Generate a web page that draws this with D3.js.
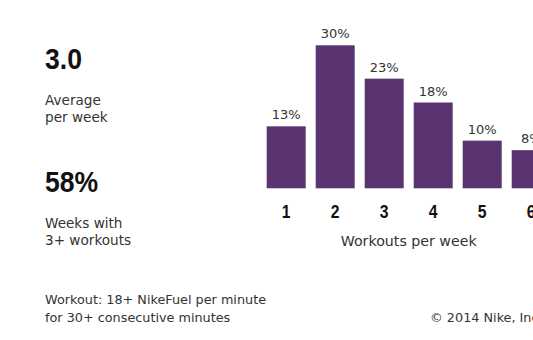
<!DOCTYPE html>
<html>
<head>
<meta charset="utf-8">
<script src="https://cdn.jsdelivr.net/npm/d3@7"></script>
<style>
  body { margin: 0; background: #fff; }
  svg { display: block; }
</style>
</head>
<body>
<div id="chart"></div>
<script>
// Workouts per week distribution
const workouts = ["1", "2", "3", "4", "5", "6"];
const shares = [13, 30, 23, 18, 10, 8];

// Summary stats on the left
const statValues = ["3.0", "58%"];
const statLabels = [["Average", "per week"], ["Weeks with", "3+ workouts"]];

const footNote = ["Workout: 18+ NikeFuel per minute", "for 30+ consecutive minutes"];
const copyright = "\u00A9 2014 Nike, Inc.";

const width = 533;
const height = 340;
const barColor = "#5a3371";
const boldFont = "'Liberation Sans', Arial, sans-serif";
const plain = "'DejaVu Sans', sans-serif";

const svg = d3.select("#chart")
  .append("svg")
  .attr("width", width)
  .attr("height", height);

// Scales
const x = d3.scaleBand()
  .domain(workouts)
  .range([261.7, 261.7 + 294])
  .paddingInner(0.204)
  .paddingOuter(0.102);

const y = d3.scaleLinear()
  .domain([0, 30])
  .range([188.3, 45.3]);

// Bars
svg.selectAll("rect.bar")
  .data(shares)
  .enter()
  .append("rect")
  .attr("class", "bar")
  .attr("x", (d, i) => x(workouts[i]))
  .attr("y", d => y(d))
  .attr("width", x.bandwidth())
  .attr("height", d => y(0) - y(d))
  .attr("fill", barColor);

// Value labels
svg.selectAll("text.value")
  .data(shares)
  .enter()
  .append("text")
  .attr("class", "value")
  .attr("x", (d, i) => x(workouts[i]) + x.bandwidth() / 2)
  .attr("y", d => y(d) - 7)
  .attr("text-anchor", "middle")
  .attr("font-family", plain)
  .attr("font-size", 13)
  .attr("fill", "#333")
  .text(d => d + "%");

// Category axis (bold condensed numbers, no line)
const xAxis = svg.append("g")
  .attr("transform", `translate(0, ${y(0)})`)
  .call(d3.axisBottom(x).tickSize(0).tickPadding(0));
xAxis.select(".domain").remove();
xAxis.selectAll("text")
  .attr("font-family", boldFont)
  .attr("font-weight", "bold")
  .attr("font-size", 18.5)
  .attr("fill", "#111")
  .attr("dy", 0)
  .attr("y", 0)
  .attr("transform", "translate(0, 30) scale(0.85, 1)");

svg.append("text")
  .attr("x", (x.range()[0] + x.range()[1]) / 2)
  .attr("y", 246)
  .attr("text-anchor", "middle")
  .attr("font-family", plain)
  .attr("font-size", 14.2)
  .attr("fill", "#333")
  .text("Workouts per week");

// Left-hand stats
const statTop = [69, 192];
statValues.forEach((v, i) => {
  svg.append("text")
    .attr("transform", `translate(45, ${statTop[i]}) scale(0.9, 1)`)
    .attr("font-family", boldFont)
    .attr("font-weight", "bold")
    .attr("font-size", 29.5)
    .attr("fill", "#111")
    .text(v);

  statLabels[i].forEach((line, j) => {
    svg.append("text")
      .attr("x", 45)
      .attr("y", statTop[i] + 35.5 + j * 17.5)
      .attr("font-family", plain)
      .attr("font-size", 13.6)
      .attr("fill", "#333")
      .text(line);
  });
});

// Footer
footNote.forEach((line, j) => {
  svg.append("text")
    .attr("x", 45)
    .attr("y", 303.5 + j * 18.5)
    .attr("font-family", plain)
    .attr("font-size", 12.8)
    .attr("fill", "#333")
    .text(line);
});

svg.append("text")
  .attr("x", 430)
  .attr("y", 322)
  .attr("font-family", plain)
  .attr("font-size", 12.8)
  .attr("fill", "#333")
  .text(copyright);
</script>
</body>
</html>
